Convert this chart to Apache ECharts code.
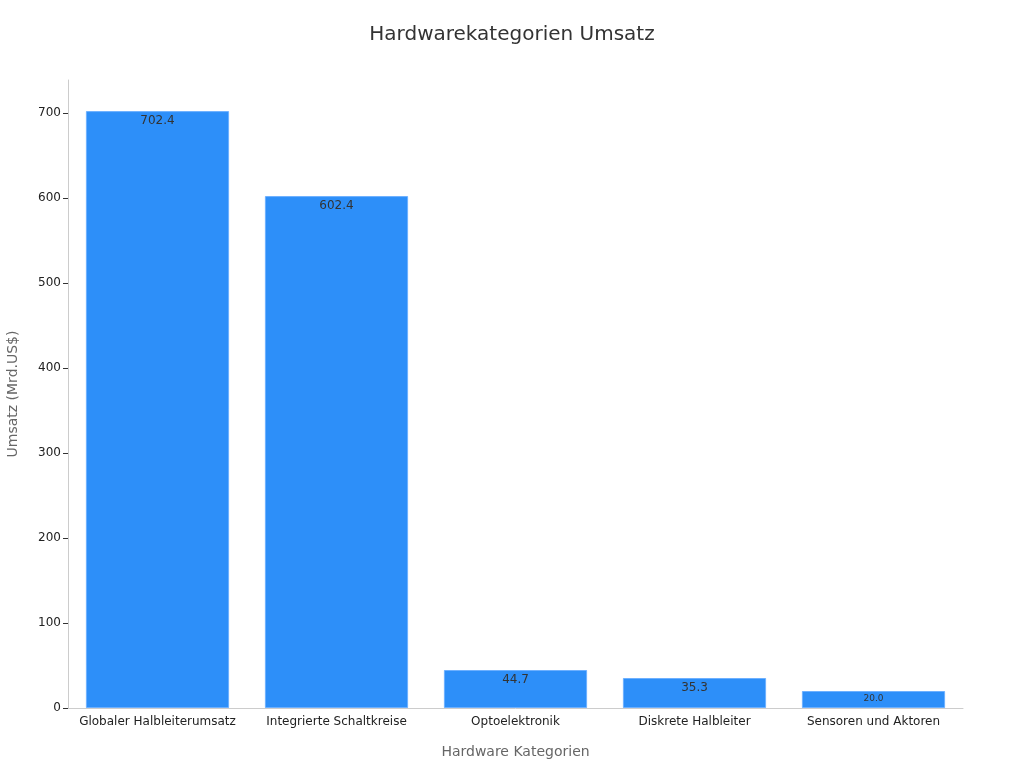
<!DOCTYPE html>
<html lang="de">
  <head>
    <meta charset="UTF-8" />
    <title>Hardwarekategorien Umsatz</title>
    <script src="https://cdn.jsdelivr.net/npm/echarts@6/dist/echarts.min.js"></script>
    <style>
      html, body { margin: 0; padding: 0; background: #fff; }
      #chart { width: 1024px; height: 768px; }
    </style>
  </head>
  <body>
    <div id="chart"></div>
  </body>
</html>
<script>
  // Daten
  const categories = [
    "Globaler Halbleiterumsatz",
    "Integrierte Schaltkreise",
    "Optoelektronik",
    "Diskrete Halbleiter",
    "Sensoren und Aktoren",
  ];
  const revenue = [702.4, 602.4, 44.7, 35.3, 20.0];
  const yTicks = [0, 100, 200, 300, 400, 500, 600, 700];

  const chart = echarts.init(document.getElementById("chart"));
  const option = {
    textStyle: { fontFamily: "DejaVu Sans" },
    title: {
      text: "Hardwarekategorien Umsatz",
      left: "center",
      top: 20,
      textStyle: { fontSize: 20, fontWeight: "normal", color: "#333" },
    },
    grid: { left: 68, right: 61, top: 80, bottom: 60, outerBoundsMode: "none" },
    xAxis: {
      type: "category",
      data: categories,
      name: "Hardware Kategorien",
      nameLocation: "middle",
      nameGap: 37,
      nameTextStyle: { fontSize: 14, color: "#666" },
      axisLine: { lineStyle: { color: "#ccc" } },
      axisTick: { alignWithLabel: true, interval: 0, length: 5, lineStyle: { color: "#333" } },
      axisLabel: { interval: 0, color: "#222", fontSize: 12 },
    },
    yAxis: {
      type: "value",
      min: 0,
      max: 739,
      name: "Umsatz (Mrd.US$)",
      nameLocation: "middle",
      nameGap: 48,
      nameTextStyle: { fontSize: 14, color: "#666" },
      axisLine: { show: true, lineStyle: { color: "#ccc" } },
      axisTick: { show: true, length: 5, customValues: yTicks, lineStyle: { color: "#333" } },
      axisLabel: { customValues: yTicks, color: "#222", fontSize: 12, margin: 7 },
      splitLine: { show: false },
    },
    series: [
      {
        type: "bar",
        barCategoryGap: "20%",
        itemStyle: { color: "#2d8ff9", borderColor: "#6db0ff", borderWidth: 1 },
        label: {
          show: true,
          position: "insideTop",
          distance: 4,
          color: "#333",
          fontSize: 12,
          formatter: (p) => p.value.toFixed(1),
        },
        // kleineres Label für den letzten Balken
        data: revenue.map((v, i) =>
          i === revenue.length - 1 ? { value: v, label: { fontSize: 9, distance: 3 } } : v
        ),
      },
    ],
  };
  chart.setOption(option);
</script>
